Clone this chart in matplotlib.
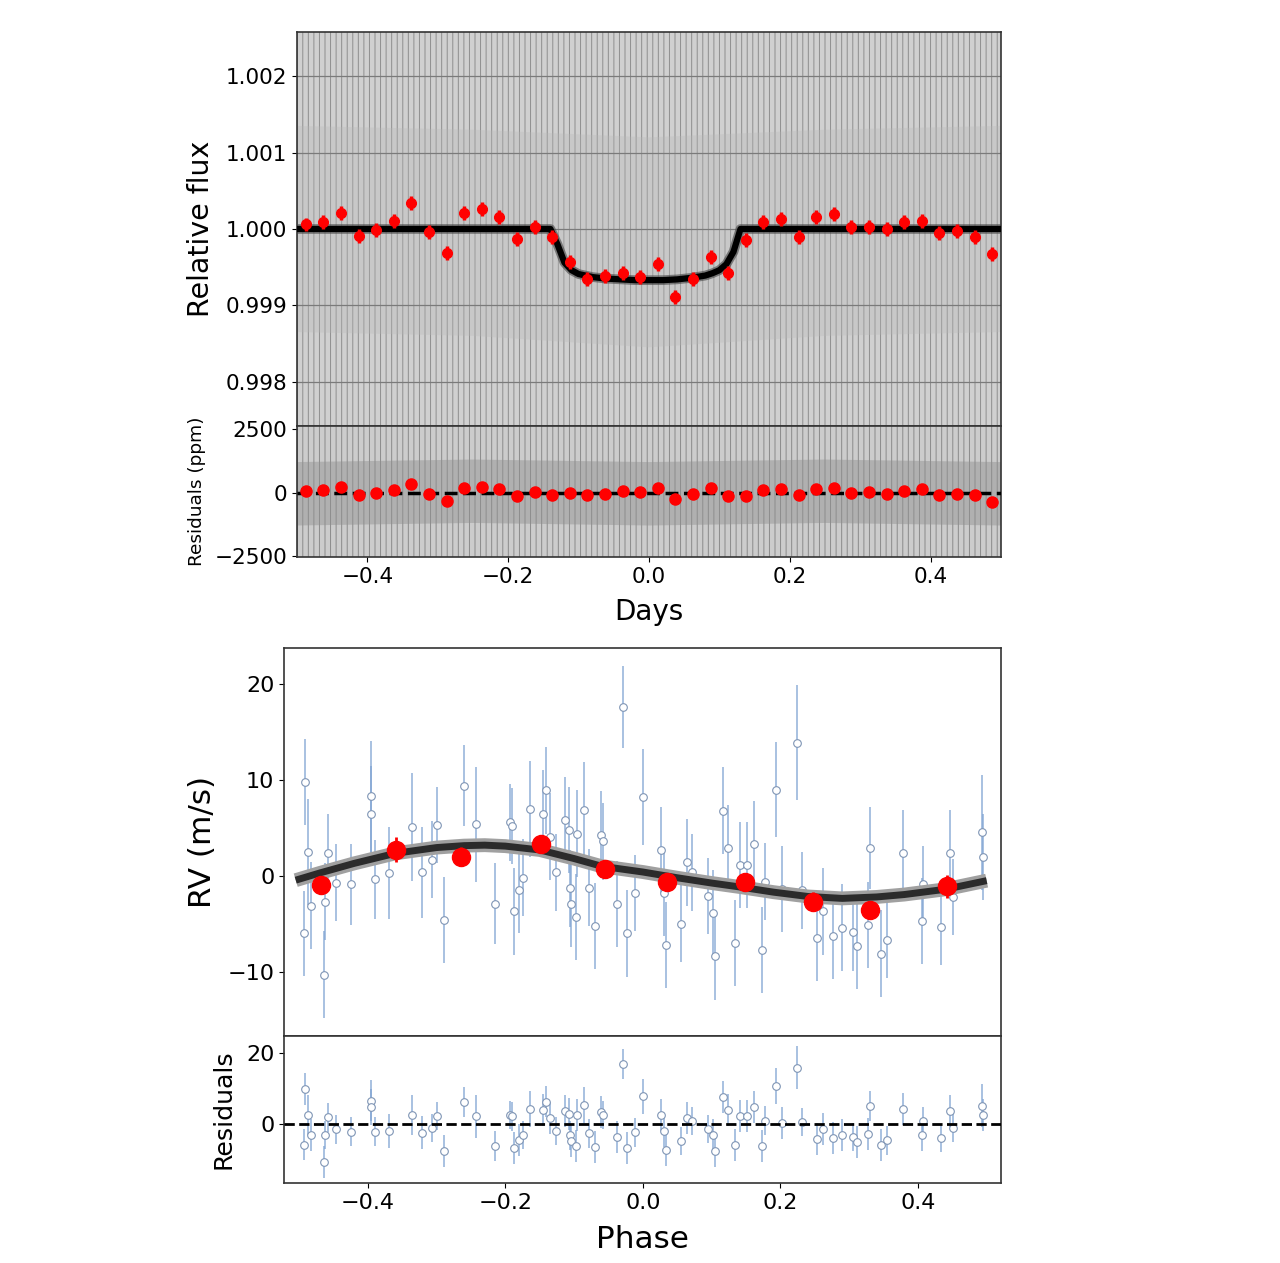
#!/usr/bin/env python3
# -*- coding: utf-8 -*-
# transito + velocidades radiais (dobradas em fase)

import numpy as np
import matplotlib
matplotlib.use('Agg')
import matplotlib.pyplot as plt

# ---- curva de luz: bins (vermelho) ----
bin_t = [-0.4875, -0.4625, -0.4375, -0.4125, -0.3875, -0.3625, -0.3375, -0.3125,
         -0.2875, -0.2625, -0.2375, -0.2125, -0.1875, -0.1625, -0.1375, -0.1125,
         -0.0875, -0.0625, -0.0375, -0.0125, 0.0125, 0.0375, 0.0625, 0.0875,
         0.1125, 0.1375, 0.1625, 0.1875, 0.2125, 0.2375, 0.2625, 0.2875,
         0.3125, 0.3375, 0.3625, 0.3875, 0.4125, 0.4375, 0.4625, 0.4875]
bin_flux = [1.000060, 1.000096, 1.000206, 0.999908, 0.999987, 1.000109, 1.000345, 0.999957,
            0.999682, 1.000214, 1.000258, 1.000153, 0.999873, 1.000022, 0.999899, 0.999571,
            0.999345, 0.999384, 0.999427, 0.999375, 0.999541, 0.999105, 0.999345, 0.999629,
            0.999419, 0.999856, 1.000096, 1.000127, 0.999899, 1.000161, 1.000197, 1.000022,
            1.000030, 0.999996, 1.000096, 1.000109, 0.999944, 0.999978, 0.999891, 0.999672]
bin_err = 0.00009
bin_resid = [52, 92, 223, -105, -26, 105, 354, -39, -328, 197, 236, 157, -131, 26, -105, 0,
             -105, -39, 79, 13, 197, -262, -39, 184, -131, -131, 105, 131, -105, 157,
             184, 0, 26, -39, 66, 157, -79, -39, -105, -367]

# modelo de transito
model_t = [-0.5, -0.14, -0.13, -0.12, -0.11, -0.10, -0.09, -0.08, -0.06, -0.04, -0.02,
           0.0, 0.02, 0.04, 0.06, 0.08, 0.09, 0.10, 0.11, 0.12, 0.13, 0.5]
model_flux = [1.0, 1.0, 0.99980, 0.99956, 0.99946, 0.99941, 0.99939, 0.99937, 0.99935,
              0.99934, 0.99933, 0.99933, 0.99933, 0.99934, 0.99936, 0.99939, 0.99942,
              0.99946, 0.99954, 0.99970, 1.0, 1.0]

# envelope dos dados brutos (nuvem cinza)
raw_t = [-0.5, -0.25, 0.0, 0.25, 0.5]
raw_hi = [1.00258, 1.00258, 1.00258, 1.00258, 1.00258]
raw_lo = [0.99742, 0.99742, 0.99742, 0.99742, 0.99742]
core_hi = [1.00135, 1.00130, 1.00120, 1.00130, 1.00135]
core_lo = [0.99865, 0.99860, 0.99845, 0.99860, 0.99865]
res_hi = [2620, 2620, 2620, 2620, 2620]
res_lo = [-2540, -2540, -2540, -2540, -2540]
res_core_hi = [1200, 1300, 1200, 1300, 1200]
res_core_lo = [-1300, -1200, -1300, -1200, -1300]

# ---- velocidades radiais ----
rv_phase = [-0.491, -0.487, -0.493, -0.483, -0.458, -0.463, -0.464, -0.446, -0.425, -0.395,
            -0.395, -0.389, -0.370, -0.336, -0.321, -0.300, -0.307, -0.290, -0.260,
            -0.243, -0.215, -0.193, -0.190, -0.187, -0.180, -0.174, -0.164, -0.141, -0.145,
            -0.135, -0.127, -0.114, -0.107, -0.106, -0.104, -0.098, -0.096, -0.085, -0.078,
            -0.069, -0.061, -0.058, -0.038, -0.029, -0.023, -0.012, 0.000,
            0.026, 0.030, 0.033, 0.056, 0.064, 0.072, 0.095, 0.102, 0.105, 0.117, 0.124,
            0.134, 0.141, 0.152, 0.162, 0.173, 0.178, 0.193, 0.203, 0.224, 0.231, 0.253,
            0.262, 0.277, 0.290, 0.306, 0.311, 0.328, 0.330, 0.347, 0.355, 0.379, 0.406,
            0.407, 0.434, 0.447, 0.451, 0.493, 0.494]
rv = [9.8, 2.5, -6.0, -3.1, 2.4, -2.7, -10.3, -0.7, -0.9, 8.3,
      6.5, -0.35, 0.3, 5.1, 0.35, 5.3, 1.7, -4.6, 9.4,
      5.4, -2.9, 5.6, 5.2, -3.7, -1.5, -0.2, 7.0, 8.9, 6.5,
      4.1, 0.35, 5.8, 4.8, -1.3, -2.9, -4.3, 4.4, 6.9, -1.25,
      -5.2, 4.3, 3.6, -2.9, 17.6, -6.0, -1.8, 8.2,
      2.7, -1.8, -7.2, -5.0, 1.4, 0.35, -2.1, -3.9, -8.4, 6.8, 2.9,
      -7.0, 1.1, 1.1, 3.3, -7.7, -0.6, 9.0, -1.4, 13.9, -1.5, -6.5,
      -3.7, -6.25, -5.4, -5.9, -7.3, -5.1, 2.9, -8.1, -6.7, 2.4, -4.7,
      -0.9, -5.3, 2.4, -2.2, 4.55, 2.0]
rv_err = [4.5, 5.5, 4.4, 4.5, 4.0, 4.0, 4.5, 4.0, 4.2, 5.8,
          5.0, 4.1, 4.8, 5.6, 4.7, 4.0, 4.0, 4.5, 4.2,
          6.0, 4.2, 4.0, 4.0, 4.5, 4.5, 4.0, 5.0, 4.5, 4.5,
          4.5, 4.0, 4.5, 4.5, 4.0, 4.5, 4.5, 4.5, 5.0, 4.0,
          4.5, 4.5, 4.0, 4.5, 4.3, 4.5, 4.0, 5.0,
          4.5, 4.5, 4.5, 4.0, 4.5, 4.0, 4.0, 4.5, 4.5, 4.5, 4.5,
          4.5, 4.5, 4.5, 4.5, 4.5, 4.0, 5.0, 4.5, 6.0, 4.0, 4.5,
          4.5, 4.5, 4.5, 4.0, 4.5, 4.5, 4.3, 4.5, 4.0, 4.5, 4.5,
          4.0, 4.0, 4.5, 4.0, 6.0, 4.5]

# bins de RV (vermelho)
rvbin_phase = [-0.468, -0.359, -0.265, -0.148, -0.055, 0.035, 0.148, 0.247, 0.330, 0.442]
rvbin = [-1.0, 2.7, 2.0, 3.3, 0.7, -0.6, -0.6, -2.7, -3.6, -1.1]
rvbin_err = [0.5, 1.3, 1.0, 0.9, 0.8, 0.9, 0.8, 1.0, 0.5, 1.2]

# modelo kepleriano
rvmod_phase = [-0.505, -0.47, -0.42, -0.36, -0.30, -0.26, -0.23, -0.20, -0.15, -0.10,
               -0.06, 0.0, 0.05, 0.10, 0.14, 0.19, 0.24, 0.29, 0.34, 0.38, 0.44, 0.50]
rvmod = [-0.45, 0.3, 1.3, 2.35, 2.95, 3.15, 3.2, 3.1, 2.7, 1.8,
         1.0, 0.4, -0.2, -0.75, -1.15, -1.7, -2.15, -2.35, -2.2, -1.95, -1.4, -0.5]


def main():
    plt.rcParams['hatch.linewidth'] = 0.7
    fig = plt.figure(figsize=(12.8, 12.63), dpi=100)

    ax1 = fig.add_axes([0.2320, 0.6627, 0.5500, 0.3120])
    ax2 = fig.add_axes([0.2320, 0.5590, 0.5500, 0.1037], sharex=ax1)
    ax3 = fig.add_axes([0.2219, 0.1797, 0.5602, 0.3072])
    ax4 = fig.add_axes([0.2219, 0.0633, 0.5602, 0.1164], sharex=ax3)

    # --- transito ---
    ax1.fill_between(raw_t, raw_lo, raw_hi, facecolor='#d0d0d0', edgecolor='#8e8e8e',
                     hatch='|||', linewidth=0, zorder=1)
    ax1.fill_between(raw_t, core_lo, core_hi, facecolor='#b8b8b8', linewidth=0,
                     alpha=0.3, zorder=1)
    ax1.grid(axis='y', color='#7a7a7a', lw=0.9, zorder=2)
    ax1.plot(model_t, model_flux, color='#444444', lw=7, alpha=0.6,
             solid_capstyle='butt', zorder=3)
    ax1.plot(model_t, model_flux, color='black', lw=4.5, zorder=4)
    ax1.errorbar(bin_t, bin_flux, yerr=bin_err, fmt='o', color='red', ms=7,
                 elinewidth=2.5, capsize=0, zorder=5)
    ax1.set_ylim(0.99742, 1.00258)
    ax1.set_yticks([0.998, 0.999, 1.000, 1.001, 1.002])
    ax1.set_yticklabels(['0.998', '0.999', '1.000', '1.001', '1.002'])
    ax1.set_xlim(-0.5, 0.5)
    ax1.tick_params(axis='x', labelbottom=False, length=0)
    ax1.set_ylabel('Relative flux', fontsize=20.5)
    ax1.yaxis.set_label_coords(-0.117, 0.5)

    ax2.fill_between(raw_t, res_lo, res_hi, facecolor='#cccccc', edgecolor='#8a8a8a',
                     hatch='|||', linewidth=0, zorder=1)
    ax2.fill_between(raw_t, res_core_lo, res_core_hi, facecolor='#909090',
                     linewidth=0, alpha=0.45, zorder=1)
    ax2.axhline(0, color='black', ls='--', lw=2.5, zorder=3)
    ax2.plot(bin_t, bin_resid, 'o', color='red', ms=8, zorder=5)
    ax2.set_ylim(-2540, 2620)
    ax2.set_yticks([-2500, 0, 2500])
    ax2.set_xticks([-0.4, -0.2, 0.0, 0.2, 0.4])
    ax2.set_ylabel('Residuals (ppm)', fontsize=13.3)
    ax2.yaxis.set_label_coords(-0.129, 0.5)
    ax2.set_xlabel('Days', fontsize=20, labelpad=8)

    # --- velocidades radiais ---
    ax3.errorbar(rv_phase, rv, yerr=rv_err, fmt='none', ecolor='#7ea2d2',
                 elinewidth=1.1, alpha=0.85, zorder=2)
    ax3.plot(rv_phase, rv, 'o', mfc='white', mec='#7f95b5', mew=0.8, ms=5.5, zorder=3)
    ax3.plot(rvmod_phase, rvmod, color='#a0a0a0', lw=10, solid_capstyle='butt', zorder=4)
    ax3.plot(rvmod_phase, rvmod, color='#2b2b2b', lw=5, solid_capstyle='butt', zorder=5)
    ax3.errorbar(rvbin_phase, rvbin, yerr=rvbin_err, fmt='o', color='red', ms=13,
                 elinewidth=2, capsize=0, zorder=6)
    ax3.set_xlim(-0.522, 0.521)
    ax3.set_ylim(-16.7, 23.75)
    ax3.set_yticks([-10, 0, 10, 20])
    ax3.tick_params(axis='x', labelbottom=False, length=0)
    ax3.set_ylabel('RV (m/s)', fontsize=22.4)
    ax3.yaxis.set_label_coords(-0.094, 0.5)

    rv_res = np.array(rv) - np.interp(rv_phase, rvmod_phase, rvmod)
    ax4.errorbar(rv_phase, rv_res, yerr=rv_err, fmt='none', ecolor='#7ea2d2',
                 elinewidth=1.1, alpha=0.85, zorder=2)
    ax4.plot(rv_phase, rv_res, 'o', mfc='white', mec='#7f95b5', mew=0.8, ms=5.5, zorder=3)
    ax4.axhline(0, color='black', ls='--', lw=2, zorder=4)
    ax4.set_ylim(-16.6, 24.8)
    ax4.set_yticks([0, 20])
    ax4.set_xticks([-0.4, -0.2, 0.0, 0.2, 0.4])
    ax4.set_ylabel('Residuals', fontsize=18.2)
    ax4.yaxis.set_label_coords(-0.068, 0.5)
    ax4.set_xlabel('Phase', fontsize=22.4, labelpad=9)

    for ax in (ax1, ax2):
        ax.tick_params(axis='both', labelsize=15.5)
    for ax in (ax3, ax4):
        ax.tick_params(axis='both', labelsize=16)
    for ax in (ax1, ax2, ax3, ax4):
        for s in ax.spines.values():
            s.set_color('#333333')
            s.set_linewidth(1.2)

    plt.savefig('out.png', dpi=100)


if __name__ == "__main__":
    main()
